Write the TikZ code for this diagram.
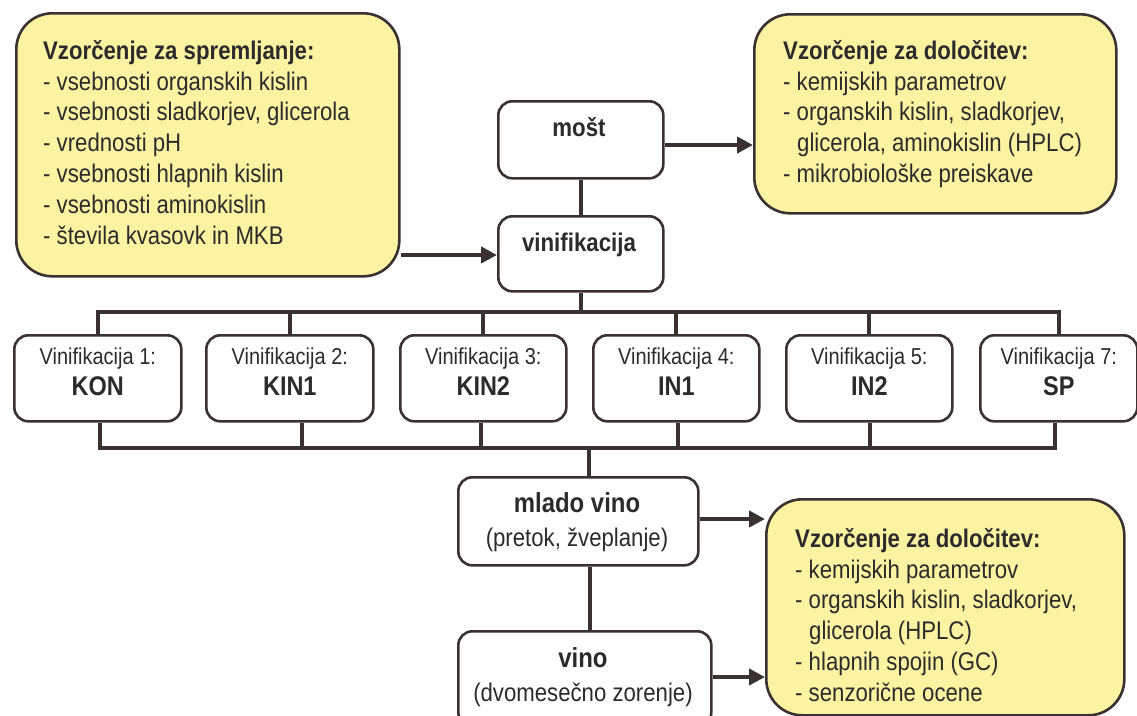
\documentclass[tikz,border=0pt]{standalone}
\usepackage{fontspec}
\setmainfont[FakeStretch=0.87]{Liberation Sans}
\usetikzlibrary{arrows.meta}
\definecolor{ink}{HTML}{3A3230}
\definecolor{note}{HTML}{FBF2A2}
\definecolor{txt}{HTML}{2B2B2B}
\tikzset{
  wbox/.style={draw=ink, line width=2.6pt, rounded corners=14pt, fill=white,
    inner sep=0pt, anchor=north west},
  ybox/.style={draw=ink, line width=2.6pt, rounded corners=36pt, fill=note,
    inner sep=0pt, anchor=north west},
  conn/.style={draw=ink, line width=4.2pt},
  arr/.style={conn, -{Triangle[length=16pt,width=16pt]}},
  notetext/.style={text=txt, align=left, anchor=north west, inner sep=0pt,
    font=\fontsize{25.5}{30.8}\selectfont},
  lbl/.style={text=txt, inner sep=0pt, anchor=base},
  small/.style={lbl, font=\fontsize{23}{26}\selectfont},
  big/.style={lbl, font=\fontsize{27}{30}\selectfont\bfseries},
  mid/.style={lbl, font=\fontsize{25.5}{30}\selectfont},
  midb/.style={lbl, font=\fontsize{25.6}{30}\selectfont\bfseries},
  midbb/.style={lbl, font=\fontsize{27.5}{30}\selectfont\bfseries},
}
\begin{document}
\begin{tikzpicture}[x=1pt, y=-1pt]
\useasboundingbox (0,0) rectangle (1137,715);
\fill[white] (0,0) rectangle (1137,715);

% sampling notes
\node[ybox, minimum width=383pt, minimum height=263pt] (sp) at (15,12) {};
\node[notetext] (sptext) at (43,40) {\textbf{Vzorčenje za spremljanje:}\\
- vsebnosti organskih kislin\\
- vsebnosti sladkorjev, glicerola\\
- vrednosti pH\\
- vsebnosti hlapnih kislin\\
- vsebnosti aminokislin\\
- števila kvasovk in MKB};

\node[ybox, minimum width=362pt, minimum height=199pt] (d1) at (753,13) {};
\node[notetext] (d1text) at (783,40) {\textbf{Vzorčenje za določitev:}\\
- kemijskih parametrov\\
- organskih kislin, sladkorjev,\\
\hspace*{14pt}glicerola, aminokislin (HPLC)\\
- mikrobiološke preiskave};

\node[ybox, minimum width=358pt, minimum height=216pt] (d2) at (765,498) {};
\node[notetext] (d2text) at (795,528) {\textbf{Vzorčenje za določitev:}\\
- kemijskih parametrov\\
- organskih kislin, sladkorjev,\\
\hspace*{14pt}glicerola (HPLC)\\
- hlapnih spojin (GC)\\
- senzorične ocene};

% process boxes
\node[wbox, minimum width=165pt, minimum height=77pt] (most) at (497,100) {};
\node[midb] (mosttext) at (579,136) {mošt};
\node[wbox, minimum width=165pt, minimum height=75pt] (vin) at (497,215) {};
\node[midb] (vintext) at (579,251) {vinifikacija};

\node[wbox, minimum width=167pt, minimum height=86pt] (v1) at (13,334) {};
\node[wbox, minimum width=167pt, minimum height=86pt] (v2) at (205,334) {};
\node[wbox, minimum width=166pt, minimum height=86pt] (v3) at (399,334) {};
\node[wbox, minimum width=166pt, minimum height=86pt] (v4) at (592,334) {};
\node[wbox, minimum width=166pt, minimum height=86pt] (v5) at (785,334) {};
\node[wbox, minimum width=157pt, minimum height=86pt] (v7) at (979,334) {};
\foreach \b/\n/\c in {v1/1/KON, v2/2/KIN1, v3/3/KIN2, v4/4/IN1, v5/5/IN2, v7/7/SP}{
  \node[small] (\b a) at ([yshift=-30pt]\b.north) {Vinifikacija \n:};
  \node[big] (\b b) at ([yshift=-61pt]\b.north) {\c};
}

\node[wbox, minimum width=240pt, minimum height=88pt] (ml) at (457,476) {};
\node[midbb] (mltext) at (577,512) {mlado vino};
\node[mid] (mlsub) at (577,546) {(pretok, žveplanje)};
\node[wbox, minimum width=253pt, minimum height=95pt] (vino) at (457,630) {};
\node[midbb] (vinotext) at (583,667) {vino};
\node[mid] (vinosub) at (583,701) {(dvomesečno zorenje)};

% connectors
\draw[arr] (most.east |- 0,145) -- (d1.west |- 0,145);
\draw[arr] (sp.east |- 0,255) -- (vin.west |- 0,255);
\draw[conn] (most.south) -- (vin.north);
\draw[conn] (vin.south) -- (vin.south |- 0,312);
\draw[conn] (v1.north) -- (v1.north |- 0,312) -- (v7.north |- 0,312) -- (v7.north);
\foreach \b in {v2,v3,v4,v5}{
  \draw[conn] (\b.north) -- (\b.north |- 0,312);
}
\draw[conn] (v1.south -| 100,0) -- (100,448) -- (1055,448) -- (v7.south -| 1055,0);
\draw[conn] (v2.south -| 302,0) -- (302,448);
\draw[conn] (v3.south -| 481,0) -- (481,448);
\draw[conn] (v4.south -| 678,0) -- (678,448);
\draw[conn] (v5.south -| 870,0) -- (870,448);
\draw[conn] (ml.north -| 589,0) -- (589,448);
\draw[conn] (ml.south -| 590,0) -- (vino.north -| 590,0);
\draw[arr] (ml.east |- 0,519) -- (d2.west |- 0,519);
\draw[arr] (vino.east |- 0,677) -- (d2.west |- 0,677);
\end{tikzpicture}
\end{document}
